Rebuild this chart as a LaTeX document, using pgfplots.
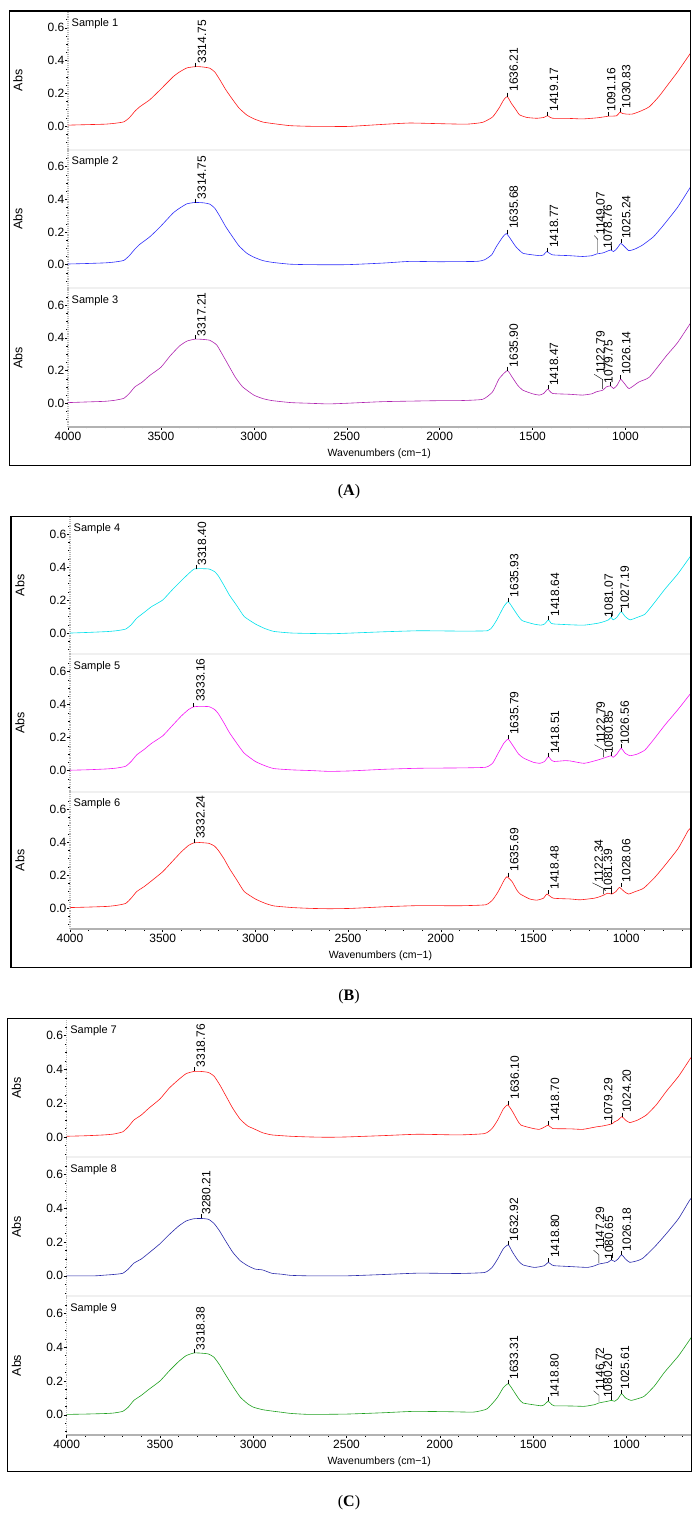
\documentclass[border=0pt]{standalone}
\usepackage{pgfplots}
\pgfplotsset{compat=1.18}
\usepackage{fontspec}
\setmainfont{Liberation Sans}
\newfontfamily\capfont{Liberation Serif}
\definecolor{cRed}{RGB}{255,25,25}
\definecolor{cBlue}{RGB}{45,45,250}
\definecolor{cPurple}{RGB}{175,35,175}
\definecolor{cCyan}{RGB}{0,225,235}
\definecolor{cMag}{RGB}{245,20,245}
\definecolor{cNavy}{RGB}{40,40,170}
\definecolor{cGreen}{RGB}{30,160,30}
\pgfplotsset{
  ftir/.style={
    scale only axis, x dir=reverse, xmin=650, xmax=4000,
    axis x line*=bottom, axis y line*=left,
    ytick={0,0.2,0.4,0.6}, yticklabels={0.0,0.2,0.4,0.6},
    minor ytick={-0.1,-0.05,0.05,0.1,0.15,0.25,0.3,0.35,0.45,0.5,0.55,0.65},
    tick align=outside, major tick length=3pt, minor tick length=1.5pt,
    tick style={black, line width=0.4pt},
    y axis line style={gray!55, line width=1.2pt, densely dotted},
    tick label style={font=\fontsize{12}{14}\selectfont},
    yticklabel style={inner sep=0.5pt},
    ylabel={Abs},
    ylabel style={at={(axis description cs:-0.0805,0.5)}, anchor=center, font=\fontsize{12.5}{14}\selectfont},
    title style={at={(axis description cs:0,1)}, anchor=north west, inner sep=0pt, xshift=3.5pt, yshift=-13pt, font=\fontsize{11}{13}\selectfont},
  },
  topsub/.style={ftir, xtick=\empty, x axis line style={gray!12, line width=2pt}},
  botsub/.style={ftir, xtick={1000,1500,2000,2500,3000,3500,4000},
    xticklabels={1000,1500,2000,2500,3000,3500,4000},
    minor xtick={700,800,900,1100,1200,1300,1400,1600,1700,1800,1900,2100,2200,2300,2400,2600,2700,2800,2900,3100,3200,3300,3400,3600,3700,3800,3900},
    xticklabel style={inner sep=1.5pt},
    x axis line style={gray!60, line width=1.5pt},
    xlabel={Wavenumbers (cm−1)},
    xlabel style={at={(axis description cs:0.5,-0.195)}, anchor=center, font=\fontsize{10.5}{12}\selectfont}},
  spec/.style={line width=0.6pt, smooth, tension=0.3},
  plab/.style={draw=none, nodes near coords, point meta=explicit symbolic,
    every node near coord/.append style={rotate=90, anchor=north west, inner sep=0pt, font=\fontsize{12}{13}\selectfont, black}},
  ptick/.style={only marks, mark=|, mark size=2pt, black, mark options={line width=0.4pt}},
  lead/.style={black, line width=0.4pt},
  pA/.style={width=622.5pt, height=138.7pt, ymin=-0.145, ymax=0.703, anchor=north west},
  pB/.style={width=621pt, height=137.5pt, ymin=-0.128, ymax=0.705, anchor=north west},
  pC/.style={width=625pt, height=138.9pt, ymin=-0.12, ymax=0.703, anchor=north west},
}
\begin{document}
\begin{tikzpicture}
\path[use as bounding box] (0pt,0pt) rectangle (698pt,1522pt);
% ================= Panel A =================
\begin{axis}[topsub, pA, at={(68pt,1511pt)}, title={Sample 1}]
\addplot[spec, cRed] coordinates {(4000,0.005) (3900,0.008) (3800,0.011) (3750,0.016) (3700,0.025) (3670,0.05) (3640,0.09) (3613,0.118) (3560,0.16) (3505,0.22) (3435,0.30) (3400,0.33) (3360,0.355) (3320,0.362) (3300,0.363) (3270,0.36) (3237,0.353) (3210,0.33) (3183,0.283) (3150,0.22) (3113,0.16) (3080,0.11) (3038,0.067) (3000,0.044) (2952,0.024) (2900,0.015) (2806,0.002) (2700,-0.002) (2500,-0.003) (2400,0.003) (2300,0.01) (2161,0.018) (2000,0.014) (1855,0.011) (1769,0.022) (1715,0.055) (1680,0.11) (1655,0.16) (1636,0.18) (1615,0.14) (1590,0.1) (1570,0.068) (1530,0.052) (1478,0.047) (1440,0.052) (1419,0.063) (1405,0.052) (1392,0.047) (1300,0.046) (1231,0.043) (1150,0.05) (1102,0.058) (1091,0.06) (1048,0.062) (1030,0.084) (1015,0.076) (990,0.072) (962,0.073) (920,0.09) (871,0.118) (820,0.18) (780,0.24) (720,0.33) (650,0.445)};
\addplot[ptick] coordinates {(3314.75,0.375) (1636.21,0.192) (1419.17,0.075) (1091.16,0.072) (1030.83,0.096)};
\addplot[plab] coordinates {(3303,0.38) [3314.75] (1625,0.21) [1636.21] (1408,0.088) [1419.17] (1101,0.087) [1091.16] (1020,0.108) [1030.83]};
\end{axis}
\begin{axis}[topsub, pA, at={(68pt,1372.3pt)}, title={Sample 2}]
\addplot[spec, cBlue] coordinates {(4000,0.004) (3900,0.007) (3800,0.011) (3750,0.016) (3700,0.026) (3670,0.055) (3640,0.095) (3613,0.125) (3560,0.17) (3505,0.23) (3435,0.315) (3400,0.345) (3360,0.372) (3320,0.38) (3300,0.38) (3270,0.378) (3237,0.37) (3210,0.345) (3183,0.296) (3150,0.23) (3113,0.168) (3080,0.115) (3038,0.07) (3000,0.046) (2952,0.025) (2900,0.014) (2806,0.003) (2700,0.0) (2500,0.0) (2300,0.01) (2161,0.02) (2000,0.018) (1802,0.02) (1758,0.03) (1720,0.06) (1695,0.11) (1660,0.17) (1641,0.19) (1620,0.16) (1590,0.11) (1552,0.07) (1500,0.06) (1460,0.055) (1440,0.06) (1424,0.08) (1392,0.06) (1300,0.055) (1231,0.05) (1180,0.055) (1157,0.065) (1120,0.072) (1103,0.08) (1079,0.09) (1064,0.08) (1045,0.1) (1025,0.13) (1005,0.11) (982,0.086) (950,0.095) (908,0.12) (850,0.17) (800,0.235) (720,0.35) (650,0.475)};
\addplot[ptick] coordinates {(3314.75,0.392) (1635.68,0.202) (1418.77,0.092) (1078.76,0.102) (1025.24,0.142)};
\addplot[lead] coordinates {(1149.07,0.072) (1149.07,0.155) (1168,0.178)};
\addplot[plab] coordinates {(3304,0.40) [3314.75] (1625,0.218) [1635.68] (1408,0.102) [1418.77] (1158,0.183) [1149.07] (1119,0.098) [1078.76] (1020,0.157) [1025.24]};
\end{axis}
\begin{axis}[botsub, pA, at={(68pt,1233.7pt)}, title={Sample 3}]
\addplot[spec, cPurple] coordinates {(4000,0.004) (3900,0.008) (3800,0.012) (3750,0.018) (3700,0.03) (3670,0.06) (3640,0.1) (3600,0.13) (3560,0.17) (3500,0.22) (3450,0.29) (3400,0.35) (3360,0.38) (3317,0.392) (3280,0.391) (3237,0.385) (3200,0.357) (3170,0.3) (3140,0.24) (3100,0.16) (3060,0.1) (3000,0.05) (2950,0.028) (2900,0.016) (2800,0.004) (2700,0.0) (2600,-0.004) (2500,0.0) (2300,0.01) (2000,0.016) (1900,0.016) (1769,0.024) (1715,0.07) (1680,0.15) (1636,0.2) (1610,0.16) (1580,0.11) (1552,0.08) (1500,0.058) (1463,0.05) (1440,0.06) (1418,0.086) (1392,0.06) (1300,0.055) (1231,0.05) (1180,0.058) (1157,0.07) (1122,0.08) (1103,0.1) (1080,0.106) (1064,0.09) (1045,0.11) (1026,0.147) (1005,0.12) (980,0.09) (928,0.13) (871,0.16) (780,0.29) (720,0.37) (650,0.49)};
\addplot[ptick] coordinates {(3317.21,0.404) (1635.90,0.212) (1418.47,0.098) (1079.75,0.118) (1026.14,0.159)};
\addplot[lead] coordinates {(1122.79,0.088) (1122.79,0.145) (1168,0.177)};
\addplot[plab] coordinates {(3306,0.41) [3317.21] (1625,0.22) [1635.90] (1408,0.106) [1418.47] (1158,0.18) [1122.79] (1115,0.122) [1079.75] (1020,0.173) [1026.14]};
\end{axis}
\draw[black, line width=1.2pt] (9.3pt,1056.5pt) rectangle (690.7pt,1511pt);
\node[font=\capfont\fontsize{16}{18}\selectfont] at (349pt,1030pt) {(\textbf{A})};
% ================= Panel B =================
\begin{axis}[topsub, pB, at={(70pt,1005.3pt)}, title={Sample 4}]
\addplot[spec, cCyan] coordinates {(4000,0.0) (3900,0.004) (3800,0.009) (3750,0.014) (3700,0.024) (3670,0.05) (3640,0.09) (3600,0.125) (3560,0.16) (3500,0.2) (3450,0.26) (3400,0.317) (3360,0.36) (3330,0.388) (3290,0.39) (3250,0.388) (3220,0.372) (3200,0.347) (3170,0.29) (3140,0.23) (3100,0.166) (3060,0.1) (3000,0.055) (2950,0.028) (2900,0.01) (2800,0.0) (2600,-0.004) (2484,0.0) (2300,0.008) (2116,0.014) (1900,0.012) (1748,0.014) (1720,0.04) (1695,0.085) (1660,0.16) (1636,0.19) (1610,0.15) (1580,0.1) (1560,0.075) (1500,0.055) (1460,0.048) (1440,0.055) (1419,0.08) (1405,0.06) (1388,0.055) (1300,0.05) (1226,0.048) (1150,0.06) (1118,0.07) (1095,0.08) (1081,0.095) (1070,0.08) (1050,0.095) (1027,0.13) (1005,0.1) (979,0.08) (940,0.095) (898,0.115) (850,0.18) (790,0.267) (720,0.36) (650,0.47)};
\addplot[ptick] coordinates {(3318.40,0.402) (1635.93,0.202) (1418.64,0.092) (1081.07,0.107) (1027.19,0.142)};
\addplot[plab] coordinates {(3312,0.408) [3318.40] (1627,0.216) [1635.93] (1408,0.10) [1418.64] (1118,0.095) [1081.07] (1032,0.141) [1027.19]};
\end{axis}
\begin{axis}[topsub, pB, at={(70pt,867.8pt)}, title={Sample 5}]
\addplot[spec, cMag] coordinates {(4000,0.002) (3900,0.005) (3800,0.01) (3750,0.015) (3700,0.026) (3670,0.055) (3640,0.095) (3600,0.128) (3560,0.165) (3500,0.21) (3450,0.27) (3400,0.33) (3360,0.37) (3333,0.386) (3300,0.389) (3250,0.387) (3220,0.37) (3200,0.345) (3170,0.29) (3140,0.23) (3100,0.165) (3060,0.105) (3000,0.055) (2950,0.03) (2900,0.012) (2800,0.004) (2700,0.0) (2600,-0.005) (2484,-0.002) (2300,0.008) (2116,0.014) (1900,0.016) (1758,0.02) (1720,0.045) (1695,0.095) (1660,0.165) (1636,0.19) (1610,0.15) (1580,0.1) (1552,0.075) (1500,0.05) (1465,0.044) (1440,0.055) (1419,0.085) (1405,0.065) (1388,0.055) (1330,0.06) (1300,0.058) (1226,0.044) (1150,0.065) (1122,0.075) (1081,0.09) (1070,0.08) (1050,0.1) (1027,0.135) (1005,0.105) (979,0.09) (940,0.1) (898,0.125) (850,0.19) (790,0.277) (720,0.37) (650,0.47)};
\addplot[ptick] coordinates {(3333.16,0.398) (1635.79,0.202) (1418.51,0.097) (1080.85,0.102) (1026.56,0.147)};
\addplot[lead] coordinates {(1122.79,0.082) (1122.79,0.125) (1171,0.157)};
\addplot[plab] coordinates {(3320,0.415) [3333.16] (1627,0.216) [1635.79] (1408,0.10) [1418.51] (1161,0.16) [1122.79] (1118,0.10) [1080.85] (1032,0.156) [1026.56]};
\end{axis}
\begin{axis}[botsub, pB, at={(70pt,730.3pt)}, title={Sample 6}]
\addplot[spec, cRed] coordinates {(4000,0.003) (3900,0.006) (3800,0.01) (3750,0.016) (3700,0.028) (3670,0.06) (3640,0.1) (3600,0.13) (3560,0.165) (3500,0.22) (3450,0.28) (3400,0.34) (3360,0.38) (3332,0.395) (3300,0.397) (3250,0.392) (3220,0.375) (3200,0.35) (3170,0.3) (3140,0.24) (3100,0.17) (3060,0.1) (3000,0.055) (2950,0.03) (2900,0.013) (2800,0.003) (2700,-0.002) (2600,-0.004) (2484,-0.002) (2300,0.008) (2116,0.015) (1900,0.014) (1758,0.02) (1720,0.05) (1690,0.1) (1660,0.165) (1643,0.19) (1615,0.16) (1590,0.11) (1571,0.085) (1520,0.055) (1481,0.048) (1445,0.06) (1427,0.085) (1393,0.06) (1300,0.055) (1248,0.05) (1170,0.06) (1140,0.07) (1122,0.078) (1100,0.09) (1077,0.085) (1055,0.1) (1036,0.125) (1010,0.1) (987,0.085) (950,0.1) (906,0.12) (850,0.18) (800,0.246) (720,0.36) (665,0.47) (650,0.485)};
\addplot[ptick] coordinates {(3332.24,0.407) (1635.69,0.202) (1418.48,0.097) (1081.39,0.1) (1028.06,0.137)};
\addplot[lead] coordinates {(1122.34,0.085) (1122.34,0.12) (1182,0.153)};
\addplot[plab] coordinates {(3320,0.418) [3332.24] (1627,0.22) [1635.69] (1410,0.111) [1418.48] (1172,0.156) [1122.34] (1122,0.095) [1081.39] (1023,0.156) [1028.06]};
\end{axis}
\draw[black, line width=1.2pt] (11pt,554.7pt) rectangle (691pt,1005.3pt);
\node[font=\capfont\fontsize{16}{18}\selectfont] at (349pt,525pt) {(\textbf{B})};
% ================= Panel C =================
\begin{axis}[topsub, pC, at={(66.7pt,503.7pt)}, title={Sample 7}]
\addplot[spec, cRed] coordinates {(4000,0.004) (3900,0.007) (3800,0.012) (3750,0.017) (3700,0.03) (3670,0.06) (3640,0.1) (3600,0.13) (3560,0.17) (3500,0.225) (3450,0.29) (3400,0.34) (3360,0.375) (3318,0.388) (3280,0.388) (3240,0.382) (3210,0.36) (3180,0.31) (3150,0.25) (3110,0.17) (3070,0.105) (3030,0.065) (3000,0.05) (2950,0.025) (2900,0.012) (2800,0.004) (2700,0.0) (2600,-0.002) (2500,0.0) (2300,0.008) (2116,0.016) (1900,0.012) (1760,0.02) (1720,0.05) (1690,0.1) (1660,0.165) (1636,0.19) (1610,0.15) (1585,0.1) (1565,0.07) (1500,0.05) (1467,0.045) (1445,0.055) (1419,0.07) (1395,0.05) (1300,0.048) (1234,0.045) (1160,0.06) (1127,0.065) (1079,0.077) (1063,0.09) (1045,0.1) (1024,0.12) (1005,0.1) (982,0.085) (940,0.1) (893,0.13) (840,0.19) (786,0.27) (720,0.36) (660,0.46) (650,0.475)};
\addplot[ptick] coordinates {(3318.76,0.4) (1636.10,0.202) (1418.70,0.082) (1079.29,0.089) (1024.20,0.132)};
\addplot[plab] coordinates {(3306,0.412) [3318.76] (1622,0.22) [1636.10] (1407,0.091) [1418.70] (1121,0.09) [1079.29] (1022,0.141) [1024.20]};
\end{axis}
\begin{axis}[topsub, pC, at={(66.7pt,364.8pt)}, title={Sample 8}]
\addplot[spec, cNavy] coordinates {(4000,0.0) (3850,0.0) (3800,0.004) (3750,0.008) (3700,0.015) (3670,0.04) (3640,0.075) (3600,0.1) (3560,0.135) (3500,0.19) (3450,0.245) (3400,0.295) (3360,0.325) (3320,0.338) (3280,0.34) (3240,0.335) (3210,0.31) (3180,0.265) (3150,0.21) (3110,0.14) (3070,0.09) (3030,0.06) (2990,0.04) (2950,0.035) (2900,0.015) (2850,0.01) (2800,0.003) (2700,0.0) (2500,0.0) (2300,0.008) (2116,0.016) (1900,0.014) (1760,0.02) (1720,0.05) (1690,0.1) (1660,0.16) (1633,0.184) (1610,0.14) (1580,0.09) (1555,0.065) (1493,0.05) (1440,0.06) (1419,0.08) (1400,0.065) (1386,0.06) (1300,0.055) (1207,0.05) (1170,0.06) (1147,0.07) (1100,0.08) (1080,0.095) (1063,0.085) (1045,0.1) (1026,0.125) (1005,0.1) (982,0.08) (940,0.09) (911,0.105) (850,0.17) (786,0.25) (720,0.34) (660,0.45) (650,0.46)};
\addplot[ptick] coordinates {(3280.21,0.352) (1632.92,0.196) (1418.80,0.092) (1080.65,0.107) (1026.18,0.137)};
\addplot[lead] coordinates {(1147.29,0.077) (1147.29,0.125) (1176,0.152)};
\addplot[plab] coordinates {(3276,0.363) [3280.21] (1626,0.204) [1632.92] (1407,0.105) [1418.80] (1166,0.155) [1147.29] (1117,0.095) [1080.65] (1022,0.145) [1026.18]};
\end{axis}
\begin{axis}[botsub, pC, at={(66.7pt,225.9pt)}, title={Sample 9}]
\addplot[spec, cGreen] coordinates {(4000,0.002) (3900,0.004) (3800,0.007) (3750,0.01) (3700,0.02) (3670,0.045) (3640,0.085) (3600,0.115) (3560,0.15) (3500,0.2) (3450,0.26) (3400,0.315) (3360,0.35) (3318,0.366) (3280,0.365) (3240,0.36) (3210,0.34) (3180,0.295) (3150,0.24) (3110,0.17) (3070,0.105) (3030,0.065) (3000,0.045) (2950,0.03) (2900,0.022) (2850,0.015) (2800,0.008) (2700,0.002) (2500,0.004) (2300,0.012) (2140,0.02) (1950,0.018) (1818,0.016) (1747,0.035) (1693,0.1) (1660,0.16) (1633,0.184) (1610,0.15) (1580,0.1) (1555,0.07) (1458,0.053) (1440,0.06) (1419,0.08) (1400,0.06) (1386,0.053) (1300,0.052) (1225,0.05) (1170,0.06) (1147,0.07) (1100,0.08) (1080,0.085) (1063,0.08) (1045,0.095) (1026,0.125) (1005,0.1) (975,0.085) (940,0.095) (904,0.11) (850,0.17) (797,0.25) (720,0.35) (654,0.455) (650,0.46)};
\addplot[ptick] coordinates {(3318.38,0.378) (1633.31,0.196) (1418.80,0.092) (1080.20,0.097) (1025.61,0.137)};
\addplot[lead] coordinates {(1146.72,0.077) (1146.72,0.115) (1176,0.142)};
\addplot[plab] coordinates {(3306,0.381) [3318.38] (1626,0.208) [1633.31] (1409,0.10) [1418.80] (1166,0.145) [1146.72] (1122,0.10) [1080.20] (1032,0.149) [1025.61]};
\end{axis}
\draw[black, line width=1.2pt] (7.3pt,50.3pt) rectangle (691.7pt,503.7pt);
\node[font=\capfont\fontsize{16}{18}\selectfont] at (349pt,19pt) {(\textbf{C})};
\end{tikzpicture}
\end{document}
